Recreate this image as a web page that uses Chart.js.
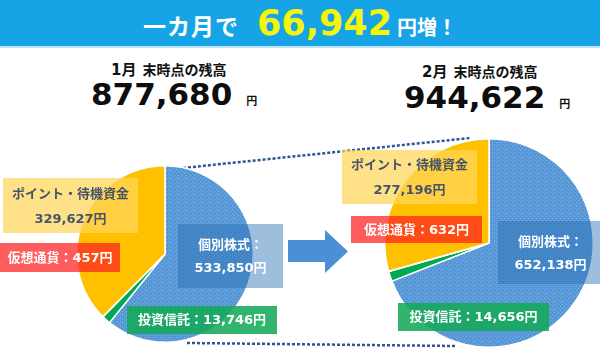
<!DOCTYPE html>
<html><head><meta charset="utf-8">
<script src="https://cdn.jsdelivr.net/npm/chart.js@4/dist/chart.umd.min.js"></script>
<style>
html,body{margin:0;padding:0;background:#fff;}
#wrap{position:relative;width:600px;height:355px;overflow:hidden;background:#fff;font-family:"Noto Sans CJK JP",sans-serif;}
#banner{position:absolute;left:0;top:0;width:600px;height:46px;background:#17a4e6;border-bottom:2px solid #bfe6f8;}
#head{position:absolute;left:0;top:0;width:600px;height:46px;display:flex;justify-content:center;align-items:baseline;color:#fff;font-weight:700;}
#head .a{font-size:23px;letter-spacing:1px;margin-right:18px;line-height:46px;}
#head .b{font-family:"DejaVu Sans","Noto Sans CJK JP",sans-serif;font-size:35px;color:#f5f50a;margin-right:5px;line-height:46px;}
#head .c{font-size:20px;line-height:46px;}
.sub{position:absolute;font-weight:700;color:#111;font-size:14px;white-space:nowrap;}
.sub .m{font-family:"DejaVu Sans","Noto Sans CJK JP",sans-serif;font-size:15px;margin-right:6px;}
.tot{position:absolute;font-weight:700;color:#0d0d0d;white-space:nowrap;}
.tot .n{font-family:"DejaVu Sans",sans-serif;font-size:31px;}
.tot .y{font-size:11px;margin-left:14px;}
canvas.pie{position:absolute;}
svg{position:absolute;left:0;top:0;}
.lbl{position:absolute;display:flex;flex-direction:column;justify-content:center;align-items:center;font-weight:700;white-space:nowrap;font-size:13px;font-family:"DejaVu Sans","Noto Sans CJK JP",sans-serif;}
.lbl span{display:block;}
</style></head>
<body>
<div id="wrap">
  <div id="banner"></div>
  <div id="head"></div>
  <svg width="600" height="355">
    <line x1="183" y1="168" x2="470" y2="138" stroke="#2f5597" stroke-width="2.5" stroke-dasharray="3,2"/>
    <line x1="187" y1="343" x2="455" y2="346" stroke="#2f5597" stroke-width="2.5" stroke-dasharray="3,2"/>
    <polygon points="288,240 325,240 325,230 348,251.5 325,273 325,262 288,262" fill="#4b8fd6"/>
  </svg>
  <canvas id="c1" class="pie" width="178" height="178" style="left:76px;top:165px"></canvas>
  <canvas id="c2" class="pie" width="210" height="210" style="left:384px;top:138px"></canvas>
</div>
<script>
// ---- data ----
const categories = ['個別株式', '投資信託', '仮想通貨', 'ポイント・待機資金'];
const months = ['1月', '2月'];
const janValues = [533850, 13746, 457, 329627];
const febValues = [652138, 14656, 632, 277196];
const subtitleText = '末時点の残高';
const headPrefix = '一カ月で';
const headSuffix = '円増！';
const yen = '円';

// ---- helpers ----
const fmt = v => v.toLocaleString('en-US');
const sum = a => a.reduce((s, v) => s + v, 0);
const wrap = document.getElementById('wrap');

const totals = [sum(janValues), sum(febValues)];
document.getElementById('head').innerHTML =
  '<span class="a">' + headPrefix + '</span><span class="b">' + fmt(totals[1] - totals[0]) +
  '</span><span class="c">' + headSuffix + '</span>';

function addDiv(cls, html, style) {
  const d = document.createElement('div');
  d.className = cls; d.innerHTML = html;
  Object.assign(d.style, style);
  wrap.appendChild(d);
  return d;
}
// subtitles & totals
const subPos = [{left: '111px', top: '58px'}, {left: '422px', top: '60px'}];
const totPos = [{left: '91px', top: '76px'}, {left: '404px', top: '79px'}];
months.forEach((m, i) => {
  addDiv('sub', '<span class="m">' + m + '</span>' + subtitleText, subPos[i]);
  addDiv('tot', '<span class="n">' + fmt(totals[i]) + '</span><span class="y">' + yen + '</span>', totPos[i]);
});

// pie patterns
function dotPattern() {
  const c = document.createElement('canvas'); c.width = 4; c.height = 4;
  const x = c.getContext('2d');
  x.fillStyle = '#5596d6'; x.fillRect(0, 0, 4, 4);
  x.fillStyle = 'rgba(255,255,255,0.3)';
  x.fillRect(0, 0, 1, 1); x.fillRect(2, 2, 1, 1);
  return x.createPattern(c, 'repeat');
}
const sliceColors = [dotPattern(), '#00a850', '#c00000', '#ffc000'];

function makePie(id, values) {
  new Chart(document.getElementById(id), {
    type: 'pie',
    data: {labels: categories, datasets: [{data: values, backgroundColor: sliceColors, borderColor: '#ffffff', borderWidth: 1.5}]},
    options: {
      responsive: false, animation: false, events: [],
      layout: {padding: 0},
      plugins: {legend: {display: false}, tooltip: {enabled: false}}
    }
  });
}
makePie('c1', janValues);
makePie('c2', febValues);

// ---- labels ----
const labelStyles = [
  {bg: 'rgba(40,110,180,0.45)', color: '#ffffff', lh: '23px'},
  {bg: 'rgba(20,170,90,0.88)', color: '#ffffff', lh: '28px'},
  {bg: 'rgba(255,30,30,0.72)', color: '#ffffff', lh: '28px'},
  {bg: 'rgba(255,214,90,0.72)', color: '#44546a', lh: '25px'}
];
const labelBoxes = [
  [ {l:178,t:224,w:105,h:64}, {l:127,t:306,w:150,h:28}, {l:0,t:243,w:120,h:29}, {l:3,t:178,w:135,h:55} ],
  [ {l:498,t:221,w:105,h:63}, {l:398,t:303,w:151,h:28}, {l:351,t:216,w:131,h:27}, {l:342,t:150,w:135,h:54} ]
];
[janValues, febValues].forEach((vals, mi) => {
  vals.forEach((v, ci) => {
    let html;
    if (ci === 0) html = '<span>' + categories[ci] + '：</span><span>' + fmt(v) + yen + '</span>';
    else if (ci === 3) html = '<span>' + categories[ci] + '</span><span>' + fmt(v) + yen + '</span>';
    else html = '<span>' + categories[ci] + '：' + fmt(v) + yen + '</span>';
    const b = labelBoxes[mi][ci], s = labelStyles[ci];
    addDiv('lbl', html, {left: b.l + 'px', top: b.t + 'px', width: b.w + 'px', height: b.h + 'px',
      background: s.bg, color: s.color, lineHeight: s.lh});
  });
});
</script>
</body></html>
